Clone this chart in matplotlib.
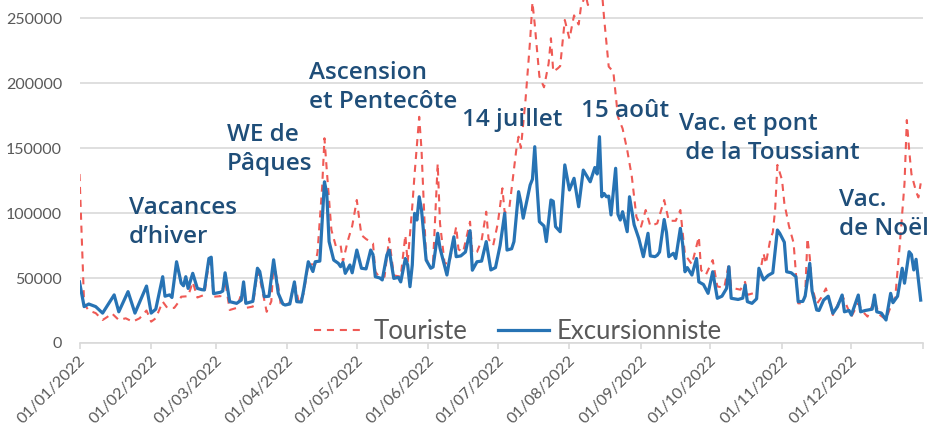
import matplotlib
matplotlib.use("Agg")
import matplotlib.pyplot as plt
import matplotlib.transforms as mtrans
import pandas as pd

# ---- data (day offset from 01/01/2022, value) ----
exc_days = [0, 2, 4, 7, 10, 15, 17, 21, 24, 29, 31, 33, 36, 37, 39, 40, 42, 44, 45, 46, 47, 49, 51, 53, 54,
            56, 57, 58, 61, 62, 63, 65, 68, 70, 71, 72, 75, 77, 78, 80, 82, 84, 85, 86, 88, 89, 91, 93, 94,
            96, 97, 99, 101, 102, 104, 106, 107, 108, 110, 112, 113, 114, 115, 117, 118, 120, 122, 124, 126,
            127, 128, 130, 131, 133, 134, 136, 138, 139, 141, 142, 143, 144, 145, 146, 147, 148, 150, 152,
            153, 155, 156, 159, 160, 162, 163, 165, 167, 169, 170, 172, 174, 176, 178, 180, 182, 184, 185,
            187, 188, 190, 191, 192, 195, 196, 197, 198, 199, 201, 202, 204, 205, 206, 208, 210, 212, 214,
            216, 218, 221, 223, 224, 225, 226, 227, 228, 229, 230, 232, 233, 234, 235, 237, 238, 240, 242,
            244, 246, 247, 249, 250, 251, 253, 254, 255, 257, 258, 260, 261, 262, 263, 265, 267, 268, 270,
            272, 274, 276, 278, 280, 281, 282, 285, 287, 288, 289, 291, 293, 294, 296, 298, 300, 302, 303,
            305, 306, 308, 310, 311, 313, 314, 316, 317, 319, 320, 322, 324, 326, 328, 330, 331, 333, 334,
            337, 338, 340, 343, 344, 345, 347, 349, 351, 352, 354, 356, 357, 359, 360, 361, 362, 364]
exc_vals = [47000, 28000, 30000, 28000, 23000, 37000, 24000, 39500, 23000, 43800, 23000, 26000, 51000, 36000,
            37000, 35000, 62500, 46000, 44000, 51000, 42000, 53600, 42000, 41000, 40800,
            65000, 66000, 38000, 39000, 40000, 54000, 31800, 30500, 33000, 47000, 30500, 32000, 57500, 55000,
            35600, 36000, 64000, 51000, 38200, 30000, 29200, 30000, 47000, 31800,
            31500, 40800, 62500, 55000, 62500, 63000, 124000, 115000, 78000, 63800, 61300, 58700, 62000, 53600,
            60000, 54000, 71500, 57500, 57000, 71500,
            68000, 51000, 50000, 48500, 67700, 71500, 49700, 50500, 47000, 65000, 60000, 43300, 60000, 99700,
            94600, 112500, 102300, 63800, 57500,
            58500, 84400, 73000, 52300, 63000, 81700, 66400, 67000, 70000, 86400, 56000, 62500, 63000, 78000,
            56200, 58000, 75000, 99800, 71500,
            72500, 78000, 116400, 108000, 96000, 121500, 126000, 151000, 120000, 93300, 90000, 78000, 110000,
            109000, 89500, 85600, 137000, 117700, 126700,
            104800, 133000, 124000, 135000, 130000, 158700, 112500, 115000, 112500, 113000, 98500, 134400,
            99000, 94600, 101000, 85600, 112500, 91000, 80500,
            66400, 84400, 67000, 66400, 67500, 70000, 95000, 85000, 66400, 69000, 65000, 88200, 76000, 54800,
            58000, 52300, 65000, 47000, 45000,
            38200, 54800, 34400, 36000, 42000, 58700, 34400, 33500, 34500, 44600, 31800, 30500, 34000, 57500,
            48500, 52000, 54000, 86900, 84400,
            77500, 54800, 54000, 51000, 31800, 32000, 36000, 61300, 40000, 25400, 25000, 33000, 36000, 22800,
            28000, 36900, 24000, 25000, 21500,
            36900, 24000, 25000, 26000, 36900, 24000, 23000, 17700, 38200, 31000, 36000, 57500, 46000, 70200,
            68000, 56200, 64400, 33000]

tour_days = [0, 2, 4, 7, 10, 12, 14, 17, 20, 23, 26, 29, 31, 33, 36, 38, 41, 43, 44, 47, 49, 51, 54, 56, 57,
             58, 61, 63, 65, 68, 71, 72, 75, 77, 78, 81, 83, 84, 86, 87, 89, 91, 93, 95, 97, 99, 102, 103,
             105, 106, 107, 109, 111, 113, 114, 116, 118, 120, 121, 122, 124, 127, 128, 130, 132, 134, 136,
             139, 141, 142, 144, 145, 147, 148, 150, 152, 153, 155, 156, 158, 160, 163, 164, 166, 169, 170,
             172, 174, 176, 177, 179, 181, 183, 184, 186, 189, 190, 191, 193, 195, 196, 197, 199, 201, 203,
             204, 205, 207, 208, 210, 212, 214, 216, 217, 219, 220, 222, 224, 226, 227, 229, 231, 233, 235,
             237, 239, 241, 243, 245, 247, 250, 253, 255, 258, 260, 261, 262, 265, 268, 269, 271, 274, 276,
             279, 281, 282, 286, 288, 289, 293, 296, 297, 299, 300, 301, 302, 304, 305, 307, 309, 311, 313,
             314, 315, 316, 317, 319, 321, 323, 326, 330, 334, 337, 339, 341, 344, 346, 349, 351, 353, 355,
             357, 358, 359, 360, 362, 363, 364]
tour_vals = [130000, 30000, 25000, 23000, 17700, 20000, 22800, 17700, 19000, 16400, 19000, 25000, 16400, 19000,
             31800, 27000, 27000, 31800, 35600, 36000, 47000, 35000, 37000, 62000, 60000,
             35600, 36000, 48000, 25400, 27000, 43000, 27000, 28000, 55000, 50000, 24000, 32000, 62000, 44000,
             30500, 29000, 31000, 47000, 30500, 38000, 60500, 60500, 70000,
             120000, 157500, 133000, 87000, 74000, 75000, 62500, 78000, 90000, 110000, 96000, 83000, 80000,
             76700, 55000, 50000, 51000, 80500, 52000,
             51000, 83000, 62000, 105000, 130000, 174000, 148500, 63800, 62000, 62000, 138000, 92000, 61300,
             61300, 89500, 72000, 70000, 93300, 69000,
             70000, 79000, 101000, 80000, 75000, 92000, 119000, 100000, 104000, 148500, 158700, 150000, 187000,
             233000, 262000, 245000, 205000, 196700, 215000,
             234400, 208700, 211300, 213000, 248500, 234000, 252000, 245000, 258700, 268000, 260000, 268000,
             270000, 272000, 250000, 212600, 208700, 174000, 165000,
             148500, 128000, 97000, 89500, 102300, 90000, 92000, 110000, 94000, 94000, 102300, 85000, 68000,
             60500, 81700, 56000, 52300, 63800, 43500,
             42500, 61300, 42500, 41000, 47000, 37000, 39000, 69000, 61000, 80500, 85000, 102300, 137000, 125400,
             107500, 90000, 77000, 30500, 30500,
             37000, 80500, 66000, 43000, 30000, 35000, 42000, 21500, 36900, 20300, 30500, 24000, 20300, 33000,
             22000, 18000, 28000, 35000, 76700,
             122800, 171500, 148500, 130000, 116400, 112000, 122800]

month_labels = ["01/01/2022", "01/02/2022", "01/03/2022", "01/04/2022", "01/05/2022", "01/06/2022",
                "01/07/2022", "01/08/2022", "01/09/2022", "01/10/2022", "01/11/2022", "01/12/2022"]
series_names = ["Touriste", "Excursionniste"]
y_ticks = [0, 50000, 100000, 150000, 200000, 250000]

start = pd.Timestamp("2022-01-01")
exc_dates = start + pd.to_timedelta(exc_days, unit="D")
tour_dates = start + pd.to_timedelta(tour_days, unit="D")

ANN = "#1F4E79"
GRAY = "#595959"
GRID = "#D9D9D9"

fig = plt.figure(figsize=(9.31, 4.30), dpi=100)
ax = fig.add_axes([79.5 / 931, 87 / 430, 843.5 / 931, 343 / 430])

ax.plot(tour_dates, tour_vals, color="#EF5A55", lw=1.5, linestyle=(0, (3.4, 2.8)),
        label=series_names[0], zorder=3)
ax.plot(exc_dates, exc_vals, color="#2773B4", lw=2.3, label=series_names[1], zorder=4,
        solid_joinstyle="round")

ax.set_xlim(start, pd.Timestamp("2023-01-01"))
ax.set_ylim(0, 263850)

ax.set_yticks(y_ticks)
ax.set_yticklabels([str(v) for v in y_ticks])
ax.yaxis.grid(True, color=GRID, lw=1.2)
ax.set_axisbelow(True)

ticks = [pd.Timestamp(f"2022-{m:02d}-01") for m in range(1, 13)] + [pd.Timestamp("2023-01-01")]
ax.set_xticks(ticks)
ax.set_xticklabels(month_labels + [""])

for s in ["top", "right", "left"]:
    ax.spines[s].set_visible(False)
ax.spines["bottom"].set_color(GRID)
ax.spines["bottom"].set_linewidth(1.2)

ax.tick_params(axis="y", length=0, pad=12.5, labelsize=11.5, labelcolor=GRAY)
ax.tick_params(axis="x", length=4, width=1.2, color=GRID, pad=7, labelsize=11.5, labelcolor=GRAY)
for lab in ax.get_yticklabels():
    lab.set_fontfamily("Lato")
shift = mtrans.ScaledTranslation(4 / 100, 0, fig.dpi_scale_trans)
for lab in ax.get_xticklabels():
    lab.set_fontfamily("Lato")
    lab.set_rotation(45)
    lab.set_ha("right")
    lab.set_va("center")
    lab.set_rotation_mode("anchor")
    lab.set_transform(lab.get_transform() + shift)

leg = ax.legend(loc="center", bbox_to_anchor=(0.52, 0.033), ncol=2, frameon=False,
                prop={"family": "Lato", "size": 18.5}, handlelength=2.0, handletextpad=0.3,
                columnspacing=1.2, borderpad=0, borderaxespad=0)
for t in leg.get_texts():
    t.set_color(GRAY)

def d(n):
    return start + pd.Timedelta(days=n)

# va='baseline' on multi-line text anchors the last line's baseline
kw = dict(color=ANN, fontsize=17.5, fontfamily="Open Sans", fontweight="semibold",
          va="baseline", ha="left", linespacing=1.3, zorder=5)
ax.text(d(21.4), 76900, "Vacances\nd\u2019hiver", **kw)
ax.text(d(63.7), 133100, "WE de\nPâques", **kw)
ax.text(d(99.4), 180800, "Ascension\net Pentecôte", **kw)
ax.text(d(165.4), 166900, "14 juillet", **kw)
ax.text(d(216.8), 173800, "15 août", **kw)
ax.text(d(259.4), 141300, "Vac. et pont\n de la Toussiant", **kw)
ax.text(d(328.8), 83100, "Vac.\nde Noël", clip_on=False, **kw)

fig.savefig("out.png", dpi=100)
